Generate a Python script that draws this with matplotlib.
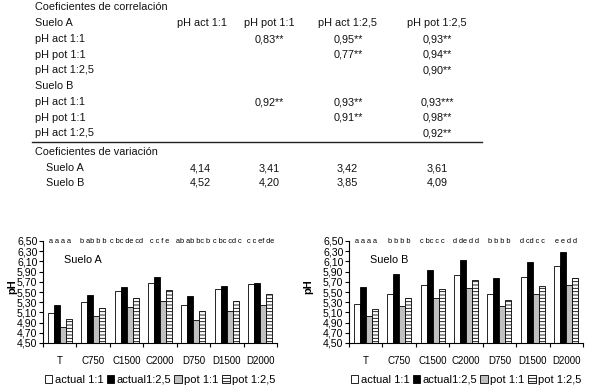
import numpy as np
import matplotlib
matplotlib.use('Agg')
import matplotlib.pyplot as plt

plt.rcParams['font.family'] = ['Liberation Sans', 'DejaVu Sans']
plt.rcParams['hatch.linewidth'] = 0.6

# ---- table data ----
col_headers = ['pH act 1:1', 'pH pot 1:1', 'pH act 1:2,5', 'pH pot 1:2,5']
row_names = ['pH act 1:1', 'pH pot 1:1', 'pH act 1:2,5']
corr_A = [['', '0,83**', '0,95**', '0,93**'],
          ['', '', '0,77**', '0,94**'],
          ['', '', '', '0,90**']]
corr_B = [['', '0,92**', '0,93**', '0,93***'],
          ['', '', '0,91**', '0,98**'],
          ['', '', '', '0,92**']]
cv_A = ['4,14', '3,41', '3,42', '3,61']
cv_B = ['4,52', '4,20', '3,85', '4,09']

# ---- bar data ----
treatments = ['T', 'C750', 'C1500', 'C2000', 'D750', 'D1500', 'D2000']
series = ['actual 1:1', 'actual1:2,5', 'pot 1:1', 'pot 1:2,5']
suelo_A = [[5.08, 5.30, 5.52, 5.68, 5.25, 5.55, 5.65],
           [5.25, 5.45, 5.60, 5.80, 5.43, 5.62, 5.68],
           [4.82, 5.03, 5.20, 5.32, 4.95, 5.13, 5.25],
           [4.98, 5.18, 5.38, 5.54, 5.13, 5.33, 5.46]]
suelo_B = [[5.27, 5.47, 5.63, 5.83, 5.47, 5.79, 6.01],
           [5.60, 5.85, 5.93, 6.13, 5.78, 6.08, 6.28],
           [5.02, 5.22, 5.38, 5.58, 5.22, 5.47, 5.63],
           [5.17, 5.38, 5.55, 5.73, 5.35, 5.62, 5.78]]
letters_A = ['a a a a', 'b ab b b', 'c bc de cd', 'c c f e',
             'ab ab bc b', 'c bc cd c', 'c c ef de']
letters_B = ['a a a a', 'b b b b', 'c bc c c', 'd de d d',
             'b b b b', 'd cd c c', 'e e d d']
yticks = np.arange(4.5, 6.51, 0.2)

W, H = 590, 391
fig = plt.figure(figsize=(W / 100, H / 100), dpi=100)

def ftxt(x, y, s, ha='left', size=7.8):
    fig.text(x / W, 1 - y / H, s, ha=ha, va='center', fontsize=size, color='#111111')

# table
col_x = [202, 269, 348, 437]
ftxt(35, 7, 'Coeficientes de correlación')
y = 23
for soil, corr in [('Suelo A', corr_A), ('Suelo B', corr_B)]:
    ftxt(35, y, soil)
    if soil == 'Suelo A':
        for cx, h in zip(col_x, col_headers):
            ftxt(cx, y, h, ha='center')
    y += 16
    for name, row in zip(row_names, corr):
        ftxt(35, y, name)
        for cx, v in zip(col_x, row):
            if v:
                ftxt(cx, y, v, ha='center')
        y += 15.7
fig.add_artist(plt.Line2D([32 / W, 482 / W], [1 - 142 / H, 1 - 142 / H],
                          color='#222222', lw=1.0))
ftxt(35, 152, 'Coeficientes de variación')
for yy, soil, cv in [(168, 'Suelo A', cv_A), (183, 'Suelo B', cv_B)]:
    ftxt(46, yy, soil)
    for cx, v in zip([200, 269, 347, 437], cv):
        ftxt(cx, yy, v, ha='center')

# bar charts
colors = ['white', 'black', '#c0c0c0', 'white']
hatches = [None, None, None, '-----']
bw = 0.18
x = np.arange(len(treatments))

def plot_bars(ax, data, letters, title):
    for i in range(4):
        ax.bar(x + (i - 1.5) * bw, np.array(data[i]) - 4.5, bw, bottom=4.5,
               color=colors[i], edgecolor='black', linewidth=0.6,
               hatch=hatches[i], label=series[i])
    ax.set_xlim(-0.5, 6.5)
    ax.set_ylim(4.5, 6.5)
    ax.set_yticks(yticks)
    ax.set_yticklabels([('%.2f' % t).replace('.', ',') for t in yticks], fontsize=7.6)
    ax.set_xticks(np.arange(-0.5, 7, 1))
    ax.set_xticklabels([])
    ax.set_xticks(x, minor=True)
    ax.set_xticklabels(treatments, minor=True, fontsize=7)
    ax.tick_params(axis='x', which='minor', length=0, pad=9)
    ax.tick_params(axis='x', which='major', length=3, width=0.8, direction='out')
    ax.tick_params(axis='y', length=3, width=0.8, pad=1)
    for s in ['top', 'right']:
        ax.spines[s].set_visible(False)
    for s in ['left', 'bottom']:
        ax.spines[s].set_linewidth(0.8)
    ax.set_ylabel('pH', fontsize=8, fontweight='bold', labelpad=1)
    ax.text(0.09, 0.78, title, transform=ax.transAxes, fontsize=7.8)
    for xi, l in zip(x, letters):
        ax.text(xi, 6.5, l, ha='center', va='center', fontsize=5.3, clip_on=False)
    ax.legend(loc='upper center', bbox_to_anchor=(0.5, -0.27), ncol=4, frameon=False,
              fontsize=8, handlelength=0.7, handleheight=0.7, handletextpad=0.2,
              columnspacing=0.3, borderaxespad=0)

axA = fig.add_axes([43 / W, 1 - 343 / H, 234 / W, 102 / H])
axB = fig.add_axes([349 / W, 1 - 343 / H, 234 / W, 102 / H])
plot_bars(axA, suelo_A, letters_A, 'Suelo A')
plot_bars(axB, suelo_B, letters_B, 'Suelo B')
axA.yaxis.set_label_coords(-26 / 234, 0.55)
axB.yaxis.set_label_coords(-36 / 234, 0.55)

fig.savefig('out.png', dpi=100)
